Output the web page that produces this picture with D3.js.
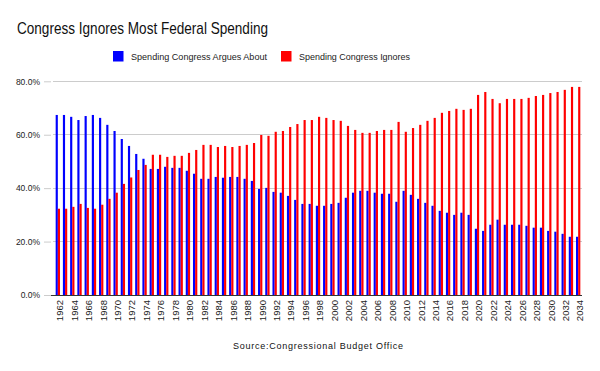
<!DOCTYPE html>
<html><head><meta charset="utf-8">
<script src="https://cdn.jsdelivr.net/npm/d3@7/dist/d3.min.js"></script>
<style>body{margin:0;background:#fff}svg{display:block;font-family:"Liberation Sans",Arial,sans-serif}</style>
</head><body><svg id="c" width="600" height="371"></svg>
<script>
const years = d3.range(1962, 2035).map(String);
const argues = [67.4,67.4,66.7,65.5,67.0,67.4,66.3,63.7,61.4,58.4,55.8,52.8,51.0,47.2,47.2,48.0,47.6,47.6,46.5,45.4,
 43.5,43.5,44.2,43.9,44.2,44.2,43.5,42.7,39.7,40.1,38.6,38.3,37.1,35.6,34.1,34.1,33.4,33.4,34.1,34.5,
 36.4,38.3,39.0,39.0,38.3,37.9,37.9,34.9,39.0,37.5,36.0,34.5,33.4,31.5,30.8,30.0,30.8,30.0,24.8,24.0,
 26.3,28.2,26.3,26.3,26.3,25.9,25.2,25.2,24.0,23.7,22.9,21.8,21.8];
const ignores = [32.3,32.3,33.0,34.1,32.6,32.3,33.8,36.0,38.3,41.6,44.0,46.8,48.7,52.5,52.5,51.7,52.1,52.1,53.2,54.3,
 56.2,56.2,55.4,55.8,55.4,55.8,56.2,56.9,59.9,59.6,61.1,61.4,62.9,64.0,65.5,65.5,66.7,66.3,65.5,65.2,
 63.3,61.8,60.7,60.7,61.4,61.8,61.8,64.8,61.1,62.5,63.7,65.2,66.3,68.2,68.9,69.7,69.3,69.7,74.9,76.0,
 73.4,71.8,73.4,73.4,73.4,73.8,74.5,74.9,75.6,76.0,76.8,77.9,77.9];
const yTicks = [0,20,40,60,80];
const seriesNames = ["Spending Congress Argues About","Spending Congress Ignores"];
const colors = ["#0000ff","#ff0000"];

const svg = d3.select("#c");
const x = d3.scaleBand().domain(years).range([53.5,582.5]).paddingInner(0.4).paddingOuter(0.3);
const sub = d3.scaleBand().domain([0,1]).range([0,x.bandwidth()]);
const y = d3.scaleLinear().domain([0,80]).range([295,81.3]);

// gridlines
svg.append("g").selectAll("line").data(yTicks.filter(d=>d>0)).join("line")
  .attr("x1",53).attr("x2",582).attr("y1",d=>y(d)).attr("y2",d=>y(d))
  .attr("stroke","#cccccc").attr("stroke-width",1).attr("shape-rendering","crispEdges");
// y axis
const ya = svg.append("g").attr("transform","translate(51,0)")
  .call(d3.axisLeft(y).tickValues(yTicks).tickSize(7).tickPadding(4).tickFormat(d=>d3.format(".1f")(d)+"%"));
ya.select(".domain").remove();
ya.selectAll(".tick line").attr("stroke","#cccccc");
ya.selectAll("text").attr("font-size","8.5px").attr("fill","#222").attr("font-family","Liberation Sans, Arial, sans-serif");

// bars
const data = [argues, ignores];
data.forEach((arr,si)=>{
  svg.append("g").selectAll("rect").data(arr).join("rect")
    .attr("x",(d,i)=>x(years[i])+sub(si)).attr("width",sub.bandwidth())
    .attr("y",d=>y(d)).attr("height",d=>y(0)-y(d)).attr("fill",colors[si]);
});

// baseline
svg.append("line").attr("x1",51).attr("x2",582).attr("y1",y(0)+0.5).attr("y2",y(0)+0.5)
  .attr("stroke","#333").attr("stroke-width",1);

// x labels
const xa = svg.append("g").attr("transform",`translate(0,${y(0)})`)
  .call(d3.axisBottom(x).tickValues(years.filter((d,i)=>i%2===0)).tickSize(0));
xa.select(".domain").remove();
xa.selectAll("text").attr("font-size","9.5px").attr("fill","#222").attr("font-family","Liberation Sans, Arial, sans-serif")
  .attr("text-anchor","end").attr("transform","rotate(-90)")
  .attr("x",-5).attr("y",0).attr("dy","0.35em").attr("dx",0)
  .each(function(){ const t=d3.select(this.parentNode).attr("transform"); });
xa.selectAll(".tick").attr("transform",d=>`translate(${x(d)+x.bandwidth()/2+2},0)`);

// title
svg.append("text").attr("x",17).attr("y",34).attr("font-size","17px").attr("fill","#111")
  .attr("textLength",251).attr("lengthAdjust","spacingAndGlyphs")
  .text("Congress Ignores Most Federal Spending");

// legend
const lg = [{x:113, tx:131, w:136},{x:281, tx:299, w:111}];
lg.forEach((l,i)=>{
  svg.append("rect").attr("x",l.x).attr("y",51).attr("width",10.5).attr("height",10.5).attr("fill",colors[i]);
  svg.append("text").attr("x",l.tx).attr("y",60).attr("font-size","9px").attr("fill","#222")
    .attr("textLength",l.w).attr("lengthAdjust","spacingAndGlyphs").text(seriesNames[i]);
});

// source
svg.append("text").attr("x",233).attr("y",349).attr("font-size","9px").attr("fill","#111")
  .attr("textLength",170).attr("lengthAdjust","spacing").text("Source:Congressional Budget Office");
</script></body></html>
